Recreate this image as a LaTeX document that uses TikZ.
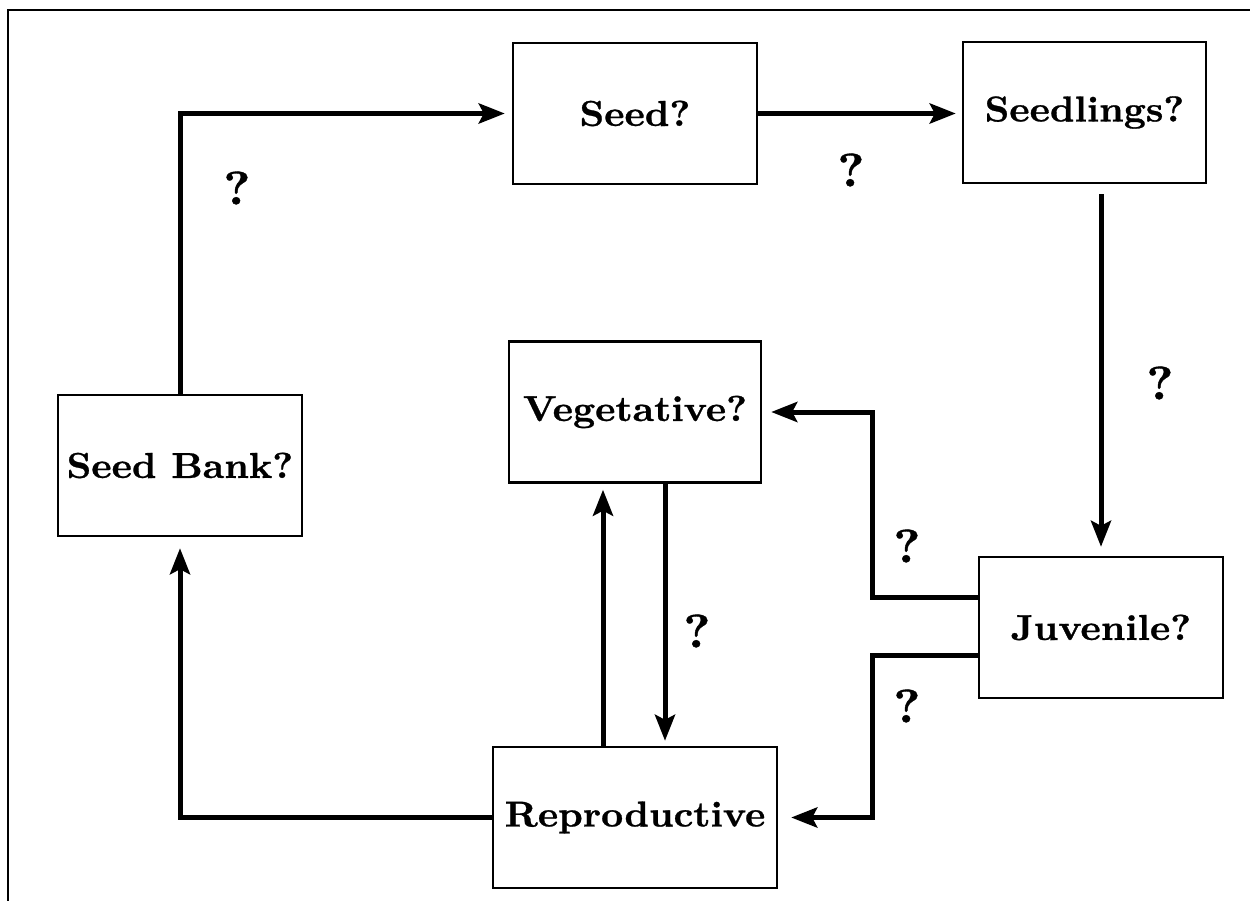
\documentclass[tikz,border=0pt]{standalone}
\usepackage{fontspec}
\newfontfamily\stagefont{lmroman10-bold}[Extension=.otf,FakeStretch=1.07,FakeBold=0.8]
\usetikzlibrary{arrows.meta}
\begin{document}
\begin{tikzpicture}[x=1pt,y=-1pt,
  stage/.style={draw,line width=2.4pt,minimum height=141pt,inner sep=0pt,
    font=\stagefont\fontsize{36}{44}\selectfont},
  conn/.style={line width=5pt,-{Stealth[length=26pt,width=20pt,inset=5pt]}},
  qmark/.style={font=\stagefont\fontsize{47}{54}\selectfont}]
\useasboundingbox (0,0) rectangle (1250,901);
% outer frame (left and top edges)
\draw[line width=2pt] (8,901) -- (8,10) -- (1250,10);

% stages
\node[stage,minimum width=244pt] (bank) at (180,465.5) {Seed Bank?};
\node[stage,minimum width=244pt] (seed) at (635,113.5) {Seed?};
\node[stage,minimum width=243pt] (sdl) at (1084.5,112.5) {Seedlings?};
\node[stage,minimum width=252pt] (veg) at (635,412) {Vegetative?};
\node[stage,minimum width=284pt] (rep) at (635,817.5) {Reproductive};
\node[stage,minimum width=244pt] (juv) at (1101,627.5) {Juvenile?};

% bend points
\coordinate (bendv) at (872,412);
\coordinate (bendr) at (872,817.5);

% transitions
\draw[conn,shorten >=7pt] (bank.north) |- (seed.west);
\draw[conn,shorten >=6pt] (seed.east) -- (seed.east -| sdl.west);
\draw[conn,shorten <=10pt,shorten >=9pt] (juv.north |- sdl.south) -- (juv.north);
\draw[conn,shorten >=9pt] ([yshift=30.5pt]juv.west) -| (bendv) -- (veg.east);
\draw[conn,shorten >=13pt] ([yshift=-28pt]juv.west) -| (bendr) -- (rep.east);
\draw[conn,shorten >=6pt] ([xshift=-32pt]rep.north) -- ([xshift=-32pt]veg.south);
\draw[conn,shorten >=5pt] ([xshift=30pt]veg.south) -- ([xshift=30pt]rep.north);
\draw[conn,shorten >=11pt] (rep.west) -| (bank.south);

% transition labels
\node[qmark] (q1) at (237,188) {?};
\node[qmark] (q2) at (851,170) {?};
\node[qmark] (q3) at (1160,383) {?};
\node[qmark] (q4) at (907,546) {?};
\node[qmark] (q5) at (697,631) {?};
\node[qmark] (q6) at (907,706) {?};
\end{tikzpicture}
\end{document}
